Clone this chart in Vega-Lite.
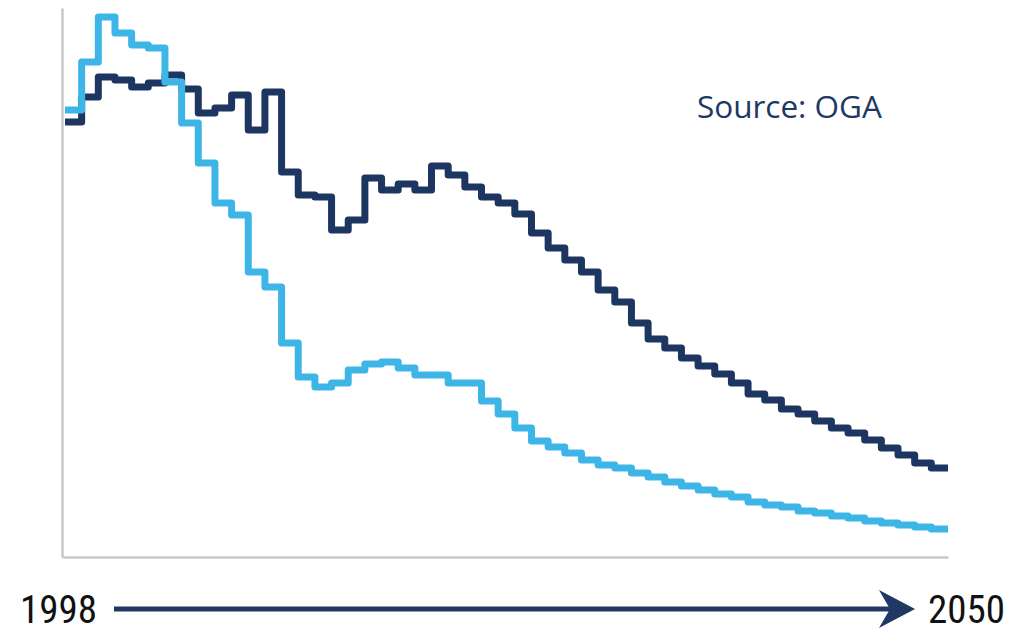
{
  "$schema": "https://vega.github.io/schema/vega-lite/v6.json",
  "width": 886,
  "height": 549,
  "autosize": {"type": "none"},
  "padding": {"left": 62, "top": 8, "right": 76, "bottom": 72},
  "background": "white",
  "config": {"view": {"stroke": null}},
  "datasets": {
    "dark": [
      {"year": 1998, "v": 435}, {"year": 1999, "v": 460}, {"year": 2000, "v": 480}, {"year": 2001, "v": 477}, {"year": 2002, "v": 470},
      {"year": 2003, "v": 474}, {"year": 2004, "v": 482}, {"year": 2005, "v": 468}, {"year": 2006, "v": 444}, {"year": 2007, "v": 449},
      {"year": 2008, "v": 462}, {"year": 2009, "v": 427}, {"year": 2010, "v": 465}, {"year": 2011, "v": 385}, {"year": 2012, "v": 362},
      {"year": 2013, "v": 360}, {"year": 2014, "v": 327}, {"year": 2015, "v": 337}, {"year": 2016, "v": 379}, {"year": 2017, "v": 367},
      {"year": 2018, "v": 373}, {"year": 2019, "v": 367}, {"year": 2020, "v": 391}, {"year": 2021, "v": 382}, {"year": 2022, "v": 370},
      {"year": 2023, "v": 360}, {"year": 2024, "v": 354}, {"year": 2025, "v": 343}, {"year": 2026, "v": 324}, {"year": 2027, "v": 309},
      {"year": 2028, "v": 297}, {"year": 2029, "v": 285}, {"year": 2030, "v": 267}, {"year": 2031, "v": 255}, {"year": 2032, "v": 234},
      {"year": 2033, "v": 218}, {"year": 2034, "v": 209}, {"year": 2035, "v": 199}, {"year": 2036, "v": 191}, {"year": 2037, "v": 183},
      {"year": 2038, "v": 174}, {"year": 2039, "v": 163}, {"year": 2040, "v": 157}, {"year": 2041, "v": 148}, {"year": 2042, "v": 143},
      {"year": 2043, "v": 136}, {"year": 2044, "v": 129}, {"year": 2045, "v": 124}, {"year": 2046, "v": 117}, {"year": 2047, "v": 109},
      {"year": 2048, "v": 102}, {"year": 2049, "v": 94}, {"year": 2050, "v": 89}, {"year": 2051, "v": 89}
    ],
    "light": [
      {"year": 1998, "v": 447}, {"year": 1999, "v": 495}, {"year": 2000, "v": 540}, {"year": 2001, "v": 524}, {"year": 2002, "v": 512},
      {"year": 2003, "v": 509}, {"year": 2004, "v": 475}, {"year": 2005, "v": 434}, {"year": 2006, "v": 394}, {"year": 2007, "v": 354},
      {"year": 2008, "v": 342}, {"year": 2009, "v": 285}, {"year": 2010, "v": 270}, {"year": 2011, "v": 214}, {"year": 2012, "v": 180},
      {"year": 2013, "v": 170}, {"year": 2014, "v": 174}, {"year": 2015, "v": 187}, {"year": 2016, "v": 193}, {"year": 2017, "v": 195},
      {"year": 2018, "v": 189}, {"year": 2019, "v": 182}, {"year": 2020, "v": 182}, {"year": 2021, "v": 174}, {"year": 2022, "v": 174},
      {"year": 2023, "v": 156}, {"year": 2024, "v": 143}, {"year": 2025, "v": 129}, {"year": 2026, "v": 116}, {"year": 2027, "v": 110},
      {"year": 2028, "v": 104}, {"year": 2029, "v": 97}, {"year": 2030, "v": 92}, {"year": 2031, "v": 89}, {"year": 2032, "v": 84},
      {"year": 2033, "v": 80}, {"year": 2034, "v": 75}, {"year": 2035, "v": 71}, {"year": 2036, "v": 67}, {"year": 2037, "v": 63},
      {"year": 2038, "v": 60}, {"year": 2039, "v": 55}, {"year": 2040, "v": 52}, {"year": 2041, "v": 50}, {"year": 2042, "v": 46},
      {"year": 2043, "v": 44}, {"year": 2044, "v": 41}, {"year": 2045, "v": 39}, {"year": 2046, "v": 36}, {"year": 2047, "v": 34},
      {"year": 2048, "v": 32}, {"year": 2049, "v": 30}, {"year": 2050, "v": 28}, {"year": 2051, "v": 28}
    ],
    "source": [{"year": 2035.93, "v": 439, "label": "Source: OGA"}],
    "ends": [
      {"year": 1995.3, "v": -66, "label": "1998"},
      {"year": 2049.8, "v": -66, "label": "2050"}
    ],
    "arrow": [{"year": 2000.94, "year2": 2048.4, "v": -52}],
    "head": [{"year": 2047.94, "v": -52}]
  },
  "encoding": {
    "x": {"field": "year", "type": "quantitative", "scale": {"domain": [1997.82, 2051], "nice": false, "zero": false},
          "axis": {"domain": true, "domainColor": "#c8c8c8", "domainWidth": 2.5, "ticks": false, "labels": false, "grid": false, "title": null}},
    "y": {"field": "v", "type": "quantitative", "scale": {"domain": [0, 549], "nice": false, "zero": false},
          "axis": {"domain": true, "domainColor": "#c8c8c8", "domainWidth": 2.5, "ticks": false, "labels": false, "grid": false, "title": null}}
  },
  "layer": [
    {
      "data": {"name": "dark"},
      "mark": {"type": "line", "interpolate": "step-after", "color": "#1d3561", "strokeWidth": 7, "strokeJoin": "round", "strokeCap": "butt"}
    },
    {
      "data": {"name": "light"},
      "mark": {"type": "line", "interpolate": "step-after", "color": "#3db6e7", "strokeWidth": 7, "strokeJoin": "round", "strokeCap": "butt"}
    },
    {
      "data": {"name": "source"},
      "mark": {"type": "text", "align": "left", "baseline": "alphabetic", "font": "Open Sans", "fontSize": 31.5, "color": "#203864"},
      "encoding": {"text": {"field": "label"}}
    },
    {
      "data": {"name": "ends"},
      "mark": {"type": "text", "align": "left", "baseline": "alphabetic", "font": "Liberation Sans Narrow, Roboto Condensed, Roboto", "fontSize": 39, "color": "#111111"},
      "encoding": {"text": {"field": "label"}}
    },
    {
      "data": {"name": "arrow"},
      "mark": {"type": "rule", "color": "#1f3864", "strokeWidth": 5},
      "encoding": {"x2": {"field": "year2"}}
    },
    {
      "data": {"name": "head"},
      "mark": {"type": "point", "filled": true, "color": "#1f3864", "opacity": 1, "size": 1444, "shape": "M-0.95,-1 L0.95,0 L-0.95,1 L-0.37,0 Z"}
    }
  ]
}
